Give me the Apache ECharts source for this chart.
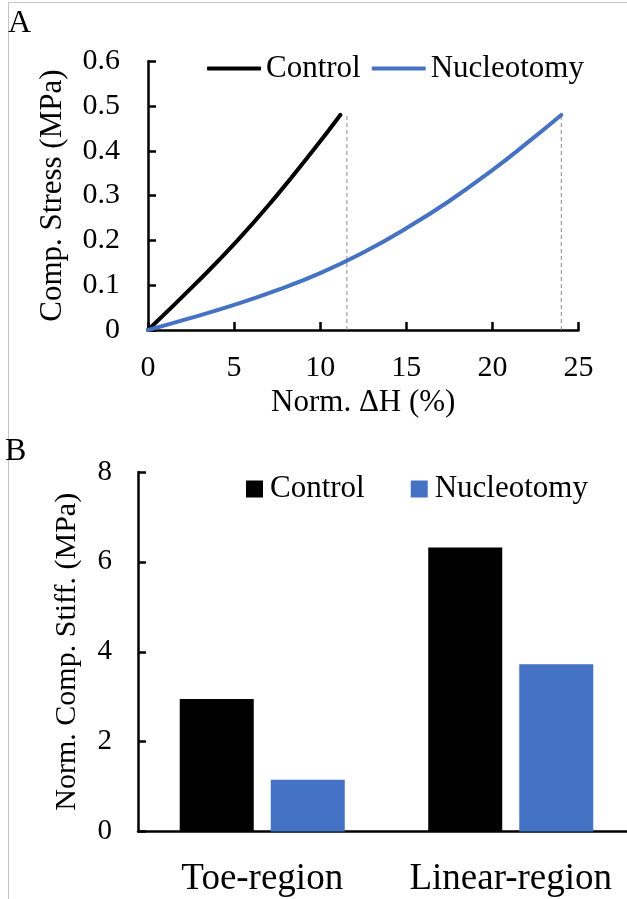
<!DOCTYPE html>
<html>
<head>
<meta charset="utf-8">
<script src="https://cdn.jsdelivr.net/npm/echarts@6/dist/echarts.min.js"></script>
<style>
  html, body { margin: 0; padding: 0; background: #ffffff; }
  #chart { width: 627px; height: 899px; }
</style>
</head>
<body>
<div id="chart"></div>
<script>
// Panel A: compressive stress vs normalised height change
const controlStrain = [0, 2.68, 5.2, 7.47, 9.57, 11.17];
const controlStress = [0, 0.1, 0.2, 0.3, 0.4, 0.48];
const nucStrain = [0, 2.5, 5, 7.5, 10, 12.5, 15, 17.5, 20, 22, 24];
const nucStress = [0, 0.027, 0.056, 0.089, 0.127, 0.173, 0.227, 0.288, 0.357, 0.417, 0.48];
const endStrain = [11.55, 24];
const endStress = 0.48;
const xTicksA = [0, 25, 5];
const yTicksA = [0, 0.6, 0.1];

// Panel B: normalised compressive stiffness by region
const regions = ['Toe-region', 'Linear-region'];
const controlStiff = [2.95, 6.32];
const nucStiff = [1.15, 3.72];
const yTicksB = [0, 8, 2];

const seriesNames = ['Control', 'Nucleotomy'];
const colors = ['#000000', '#4472c4'];
const FONT = '"Liberation Serif", "Times New Roman", serif';

const pairs = (xs, ys) => xs.map((x, i) => [x, ys[i]]);

const chart = echarts.init(document.getElementById('chart'), null, { renderer: 'canvas' });

const option = {
  backgroundColor: '#ffffff',
  animation: false,
  textStyle: { fontFamily: FONT, color: '#000' },
  graphic: [
    { type: 'line', shape: { x1: 8.5, y1: 2.5, x2: 627, y2: 2.5 }, style: { stroke: '#c4c4c4', lineWidth: 1 } },
    { type: 'line', shape: { x1: 8.5, y1: 2.5, x2: 8.5, y2: 899 }, style: { stroke: '#c4c4c4', lineWidth: 1 } },
    { type: 'text', x: 8, y: 8, style: { text: 'A', font: '32px "Liberation Serif", serif', fill: '#000' } },
    { type: 'text', x: 5, y: 436, style: { text: 'B', font: '32px "Liberation Serif", serif', fill: '#000' } }
  ],
  legend: [
    {
      data: seriesNames,
      left: 207, top: 53, padding: 0,
      icon: 'roundRect',
      itemWidth: 54, itemHeight: 4,
      itemGap: 11,
      textStyle: { fontFamily: FONT, fontSize: 31, color: '#000' }
    },
    {
      data: seriesNames.map(n => n + ' '),
      formatter: n => n.trim(),
      left: 246, top: 473.5, padding: 0,
      icon: 'rect',
      itemWidth: 17, itemHeight: 17,
      itemGap: 46,
      textStyle: { fontFamily: FONT, fontSize: 31, color: '#000', padding: [0, 0, 0, 2] }
    }
  ],
  grid: [
    { left: 148, right: 48.5, top: 61.2, bottom: 569, outerBoundsMode: 'none', containLabel: false },
    { left: 138, width: 497, top: 472, bottom: 67.5, outerBoundsMode: 'none', containLabel: false }
  ],
  xAxis: [
    {
      gridIndex: 0, type: 'value',
      min: xTicksA[0], max: xTicksA[1], interval: xTicksA[2],
      name: 'Norm. ΔH (%)', nameLocation: 'middle', nameGap: 57,
      nameTextStyle: { fontFamily: FONT, fontSize: 31, color: '#000' },
      axisLine: { show: true, lineStyle: { color: '#000', width: 2.5 } },
      axisTick: { show: true, inside: true, length: 8, lineStyle: { color: '#000', width: 2.5 } },
      axisLabel: { fontFamily: FONT, fontSize: 30, color: '#000', margin: 23 },
      splitLine: { show: false }
    },
    {
      gridIndex: 1, type: 'category', data: regions,
      axisLine: { show: true, lineStyle: { color: '#000', width: 2.5 } },
      axisTick: { show: false },
      axisLabel: { interval: 0, fontFamily: FONT, fontSize: 37, color: '#000', margin: 29 },
      splitLine: { show: false }
    }
  ],
  yAxis: [
    {
      gridIndex: 0, type: 'value',
      min: yTicksA[0], max: yTicksA[1], interval: yTicksA[2],
      name: 'Comp. Stress (MPa)', nameLocation: 'middle', nameGap: 80,
      nameTextStyle: { fontFamily: FONT, fontSize: 31, color: '#000' },
      axisLine: { show: true, lineStyle: { color: '#000', width: 2.5 } },
      axisTick: { show: true, inside: true, length: 8, lineStyle: { color: '#000', width: 2.5 } },
      axisLabel: { fontFamily: FONT, fontSize: 30, color: '#000', margin: 28 },
      splitLine: { show: false }
    },
    {
      gridIndex: 1, type: 'value',
      min: yTicksB[0], max: yTicksB[1], interval: yTicksB[2],
      name: 'Norm. Comp. Stiff. (MPa)', nameLocation: 'middle', nameGap: 56,
      nameTextStyle: { fontFamily: FONT, fontSize: 30, color: '#000' },
      axisLine: { show: true, lineStyle: { color: '#000', width: 2.5 } },
      axisTick: { show: true, inside: true, length: 8, lineStyle: { color: '#000', width: 2.5 } },
      axisLabel: { fontFamily: FONT, fontSize: 29, color: '#000', margin: 26 },
      splitLine: { show: false }
    }
  ],
  series: [
    // guide lines marking where each curve ends
    ...endStrain.map(x => ({
      type: 'line', xAxisIndex: 0, yAxisIndex: 0,
      data: [[x, 0], [x, endStress]],
      showSymbol: false, silent: true,
      lineStyle: { color: '#8c8c8c', width: 1, type: [4, 3] },
      z: 1
    })),
    {
      name: 'Control', type: 'line', xAxisIndex: 0, yAxisIndex: 0,
      data: pairs(controlStrain, controlStress),
      smooth: 0.5, showSymbol: false,
      lineStyle: { color: colors[0], width: 4, cap: 'round' },
      itemStyle: { color: colors[0] }, z: 3
    },
    {
      name: 'Nucleotomy', type: 'line', xAxisIndex: 0, yAxisIndex: 0,
      data: pairs(nucStrain, nucStress),
      smooth: 0.5, showSymbol: false,
      lineStyle: { color: colors[1], width: 4, cap: 'round' },
      itemStyle: { color: colors[1] }, z: 3
    },
    {
      name: 'Control ', type: 'bar', xAxisIndex: 1, yAxisIndex: 1,
      data: controlStiff, barWidth: 74, barGap: '23%',
      itemStyle: { color: colors[0] }
    },
    {
      name: 'Nucleotomy ', type: 'bar', xAxisIndex: 1, yAxisIndex: 1,
      data: nucStiff, barWidth: 74, barGap: '23%',
      itemStyle: { color: colors[1] }
    }
  ]
};

chart.setOption(option);
</script>
</body>
</html>
